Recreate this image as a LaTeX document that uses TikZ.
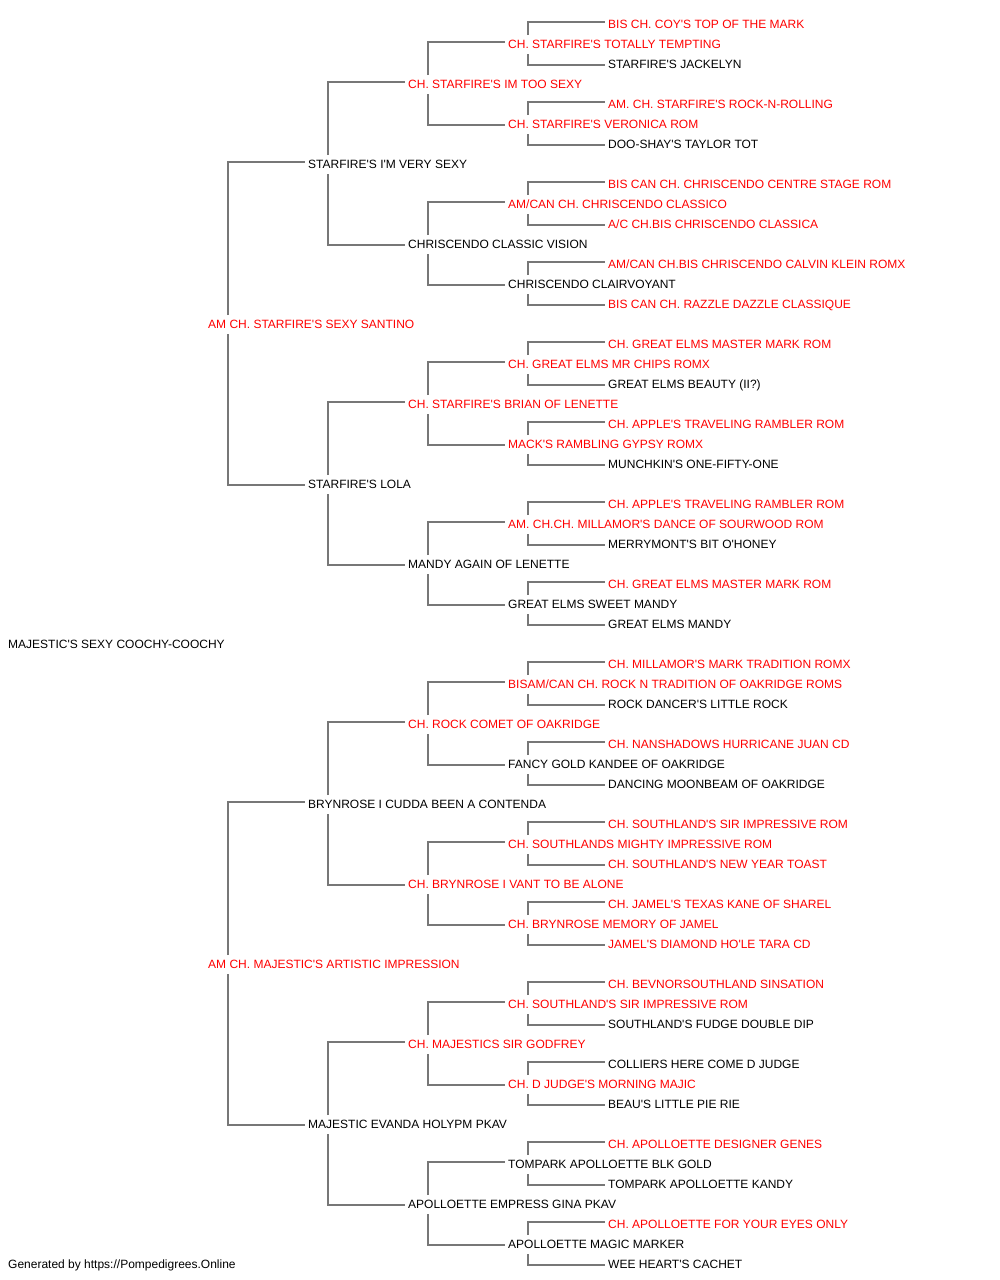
\documentclass[tikz,border=0pt]{standalone}
\usepackage{fontspec}
\setmainfont{Liberation Sans}[Ligatures=TeXOff]
\definecolor{lnk}{RGB}{119,119,119}
\definecolor{rd}{RGB}{255,0,0}
\tikzset{
  pn/.style={anchor=west, inner sep=0pt, text height=8.6pt, text depth=0pt, font=\fontsize{12}{14}\selectfont},
  ch/.style={pn, text=rd},
  nm/.style={pn, text=black},
  lk/.style={draw=lnk, line width=2pt, line join=miter}
}
\newcommand\pedlink[3]{%
  \draw[lk] ([xshift=20pt,yshift=8.7pt]#1.west) |- ([xshift=-3pt,yshift=1.7pt]#2.west);
  \draw[lk] ([xshift=20pt,yshift=-10.3pt]#1.west) |- ([xshift=-3pt,yshift=-1pt]#3.west);}
\begin{document}
\begin{tikzpicture}[x=1pt,y=-1pt]
\useasboundingbox (0,0) rectangle (1000,1280);
% generation 5
\node[ch] (n0) at (608,23.7) {BIS CH. COY'S TOP OF THE MARK};
\node[nm] (n2) at (608,63.7) {STARFIRE'S JACKELYN};
\node[ch] (n4) at (608,103.7) {AM. CH. STARFIRE'S ROCK-N-ROLLING};
\node[nm] (n6) at (608,143.7) {DOO-SHAY'S TAYLOR TOT};
\node[ch] (n8) at (608,183.7) {BIS CAN CH. CHRISCENDO CENTRE STAGE ROM};
\node[ch] (n10) at (608,223.7) {A/C CH.BIS CHRISCENDO CLASSICA};
\node[ch] (n12) at (608,263.7) {AM/CAN CH.BIS CHRISCENDO CALVIN KLEIN ROMX};
\node[ch] (n14) at (608,303.7) {BIS CAN CH. RAZZLE DAZZLE CLASSIQUE};
\node[ch] (n16) at (608,343.7) {CH. GREAT ELMS MASTER MARK ROM};
\node[nm] (n18) at (608,383.7) {GREAT ELMS BEAUTY (II?)};
\node[ch] (n20) at (608,423.7) {CH. APPLE'S TRAVELING RAMBLER ROM};
\node[nm] (n22) at (608,463.7) {MUNCHKIN'S ONE-FIFTY-ONE};
\node[ch] (n24) at (608,503.7) {CH. APPLE'S TRAVELING RAMBLER ROM};
\node[nm] (n26) at (608,543.7) {MERRYMONT'S BIT O'HONEY};
\node[ch] (n28) at (608,583.7) {CH. GREAT ELMS MASTER MARK ROM};
\node[nm] (n30) at (608,623.7) {GREAT ELMS MANDY};
\node[ch] (n32) at (608,663.7) {CH. MILLAMOR'S MARK TRADITION ROMX};
\node[nm] (n34) at (608,703.7) {ROCK DANCER'S LITTLE ROCK};
\node[ch] (n36) at (608,743.7) {CH. NANSHADOWS HURRICANE JUAN CD};
\node[nm] (n38) at (608,783.7) {DANCING MOONBEAM OF OAKRIDGE};
\node[ch] (n40) at (608,823.7) {CH. SOUTHLAND'S SIR IMPRESSIVE ROM};
\node[ch] (n42) at (608,863.7) {CH. SOUTHLAND'S NEW YEAR TOAST};
\node[ch] (n44) at (608,903.7) {CH. JAMEL'S TEXAS KANE OF SHAREL};
\node[ch] (n46) at (608,943.7) {JAMEL'S DIAMOND HO'LE TARA CD};
\node[ch] (n48) at (608,983.7) {CH. BEVNORSOUTHLAND SINSATION};
\node[nm] (n50) at (608,1023.7) {SOUTHLAND'S FUDGE DOUBLE DIP};
\node[nm] (n52) at (608,1063.7) {COLLIERS HERE COME D JUDGE};
\node[nm] (n54) at (608,1103.7) {BEAU'S LITTLE PIE RIE};
\node[ch] (n56) at (608,1143.7) {CH. APOLLOETTE DESIGNER GENES};
\node[nm] (n58) at (608,1183.7) {TOMPARK APOLLOETTE KANDY};
\node[ch] (n60) at (608,1223.7) {CH. APOLLOETTE FOR YOUR EYES ONLY};
\node[nm] (n62) at (608,1263.7) {WEE HEART'S CACHET};
% generation 4
\node[ch] (n1) at (508,43.7) {CH. STARFIRE'S TOTALLY TEMPTING};
\node[ch] (n5) at (508,123.7) {CH. STARFIRE'S VERONICA ROM};
\node[ch] (n9) at (508,203.7) {AM/CAN CH. CHRISCENDO CLASSICO};
\node[nm] (n13) at (508,283.7) {CHRISCENDO CLAIRVOYANT};
\node[ch] (n17) at (508,363.7) {CH. GREAT ELMS MR CHIPS ROMX};
\node[ch] (n21) at (508,443.7) {MACK'S RAMBLING GYPSY ROMX};
\node[ch] (n25) at (508,523.7) {AM. CH.CH. MILLAMOR'S DANCE OF SOURWOOD ROM};
\node[nm] (n29) at (508,603.7) {GREAT ELMS SWEET MANDY};
\node[ch] (n33) at (508,683.7) {BISAM/CAN CH. ROCK N TRADITION OF OAKRIDGE ROMS};
\node[nm] (n37) at (508,763.7) {FANCY GOLD KANDEE OF OAKRIDGE};
\node[ch] (n41) at (508,843.7) {CH. SOUTHLANDS MIGHTY IMPRESSIVE ROM};
\node[ch] (n45) at (508,923.7) {CH. BRYNROSE MEMORY OF JAMEL};
\node[ch] (n49) at (508,1003.7) {CH. SOUTHLAND'S SIR IMPRESSIVE ROM};
\node[ch] (n53) at (508,1083.7) {CH. D JUDGE'S MORNING MAJIC};
\node[nm] (n57) at (508,1163.7) {TOMPARK APOLLOETTE BLK GOLD};
\node[nm] (n61) at (508,1243.7) {APOLLOETTE MAGIC MARKER};
% generation 3
\node[ch] (n3) at (408,83.7) {CH. STARFIRE'S IM TOO SEXY};
\node[nm] (n11) at (408,243.7) {CHRISCENDO CLASSIC VISION};
\node[ch] (n19) at (408,403.7) {CH. STARFIRE'S BRIAN OF LENETTE};
\node[nm] (n27) at (408,563.7) {MANDY AGAIN OF LENETTE};
\node[ch] (n35) at (408,723.7) {CH. ROCK COMET OF OAKRIDGE};
\node[ch] (n43) at (408,883.7) {CH. BRYNROSE I VANT TO BE ALONE};
\node[ch] (n51) at (408,1043.7) {CH. MAJESTICS SIR GODFREY};
\node[nm] (n59) at (408,1203.7) {APOLLOETTE EMPRESS GINA PKAV};
% generation 2
\node[nm] (n7) at (308,163.7) {STARFIRE'S I'M VERY SEXY};
\node[nm] (n23) at (308,483.7) {STARFIRE'S LOLA};
\node[nm] (n39) at (308,803.7) {BRYNROSE I CUDDA BEEN A CONTENDA};
\node[nm] (n55) at (308,1123.7) {MAJESTIC EVANDA HOLYPM PKAV};
% generation 1
\node[ch] (n15) at (208,323.7) {AM CH. STARFIRE'S SEXY SANTINO};
\node[ch] (n47) at (208,963.7) {AM CH. MAJESTIC'S ARTISTIC IMPRESSION};
% root and footer
\node[nm] (n31) at (8,643.7) {MAJESTIC'S SEXY COOCHY-COOCHY};
\node[nm] (foot) at (8,1263.7) {Generated by https://Pompedigrees.Online};
% connectors
\pedlink{n1}{n0}{n2}
\pedlink{n5}{n4}{n6}
\pedlink{n9}{n8}{n10}
\pedlink{n13}{n12}{n14}
\pedlink{n17}{n16}{n18}
\pedlink{n21}{n20}{n22}
\pedlink{n25}{n24}{n26}
\pedlink{n29}{n28}{n30}
\pedlink{n33}{n32}{n34}
\pedlink{n37}{n36}{n38}
\pedlink{n41}{n40}{n42}
\pedlink{n45}{n44}{n46}
\pedlink{n49}{n48}{n50}
\pedlink{n53}{n52}{n54}
\pedlink{n57}{n56}{n58}
\pedlink{n61}{n60}{n62}
\pedlink{n3}{n1}{n5}
\pedlink{n11}{n9}{n13}
\pedlink{n19}{n17}{n21}
\pedlink{n27}{n25}{n29}
\pedlink{n35}{n33}{n37}
\pedlink{n43}{n41}{n45}
\pedlink{n51}{n49}{n53}
\pedlink{n59}{n57}{n61}
\pedlink{n7}{n3}{n11}
\pedlink{n23}{n19}{n27}
\pedlink{n39}{n35}{n43}
\pedlink{n55}{n51}{n59}
\pedlink{n15}{n7}{n23}
\pedlink{n47}{n39}{n55}
\end{tikzpicture}
\end{document}
